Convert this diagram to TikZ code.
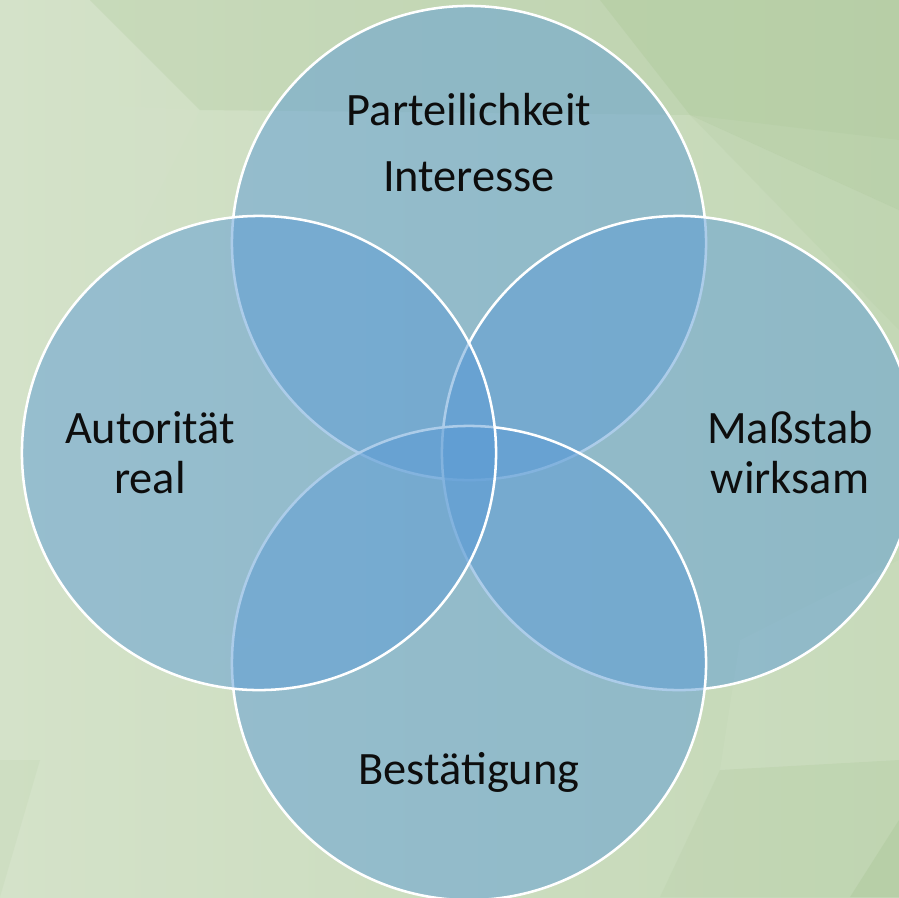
\documentclass[tikz,border=0pt]{standalone}
\usepackage{fontspec}
\setmainfont{Carlito}
\usepackage{tikz}

\definecolor{vennblue}{HTML}{5B9BD5}
\definecolor{bgbase}{HTML}{C4D8B6}
\definecolor{bglight}{HTML}{D4E2C9}
\definecolor{bgdark}{HTML}{B0CA9E}
\definecolor{labelink}{HTML}{0D0D0D}

\tikzstyle{venncircle}=[circle,draw=white,line width=1.8pt,fill=vennblue,fill opacity=0.5,draw opacity=1,minimum size=11.85cm,inner sep=0pt]
\tikzstyle{vennlabel}=[anchor=base,inner sep=0pt,text=labelink,font=\fontsize{33}{40}\selectfont]
\tikzstyle{facet}=[draw=none]

\begin{document}
\begin{tikzpicture}[x=0.025cm,y=-0.025cm]

    \useasboundingbox (0,0) rectangle (899,897);
    \clip (0,0) rectangle (899,897);

    % faceted green backdrop
    \shade[left color=bglight,right color=bgbase] (0,0) rectangle (899,897);
    \fill[facet,bgdark,opacity=0.3] (90,0) -- (899,0) -- (899,140) -- (690,115) -- (200,110) -- cycle;
    \fill[facet,bgdark,opacity=0.45] (600,0) -- (899,0) -- (899,210) -- (690,115) -- cycle;
    \fill[facet,bgdark,opacity=0.2] (690,115) -- (899,210) -- (899,330) -- cycle;
    \fill[facet,bglight,opacity=0.35] (0,100) -- (200,110) -- (90,330) -- (0,360) -- cycle;
    \fill[facet,bglight,opacity=0.3] (0,600) -- (260,640) -- (40,760) -- (0,897) -- cycle;
    \fill[facet,bgdark,opacity=0.15] (0,760) -- (40,760) -- (0,897) -- cycle;
    \fill[facet,bgdark,opacity=0.2] (720,770) -- (899,760) -- (899,897) -- (660,897) -- cycle;
    \fill[facet,bgdark,opacity=0.5] (899,820) -- (899,897) -- (850,897) -- cycle;
    \fill[facet,bglight,opacity=0.25] (740,640) -- (899,560) -- (899,760) -- (720,770) -- cycle;

    % the four circles, drawn clockwise from the top
    \foreach \pos/\name in {{(469,243)/top}, {(679,453)/right}, {(469,663)/bottom}, {(259,453)/left}}
        \node[venncircle] (\name) at \pos {};

    % labels, one node per line
    \foreach \pos/\name/\label in {{(469,125)/top1/Parteilichkeit}, {(469,191)/top2/Interesse},
                                   {(150,443)/left1/Autorität}, {(150,493)/left2/real},
                                   {(790,443)/right1/Maßstab}, {(790,493)/right2/wirksam},
                                   {(469,784)/bottom1/Bestätigung}}
        \node[vennlabel] (\name) at \pos {\label};

\end{tikzpicture}
\end{document}
